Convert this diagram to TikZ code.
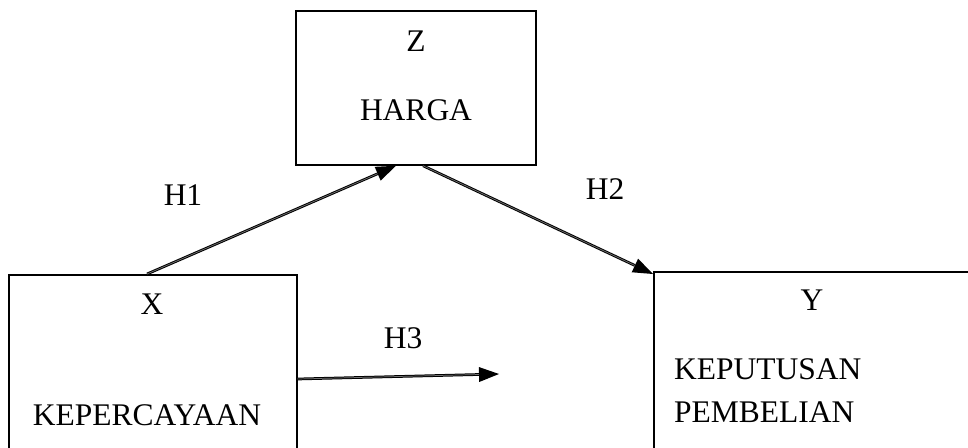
\documentclass[tikz,border=0pt]{standalone}
\usepackage{fontspec}
\setmainfont{Liberation Serif}
\usetikzlibrary{arrows.meta}
\begin{document}
\begin{tikzpicture}[x=1pt,y=-1pt,
  box/.style={draw=black,line width=1.5pt,minimum width=#1,inner sep=0pt},
  lbl/.style={font=\fontsize{31.5}{36}\selectfont,inner sep=0pt,anchor=center},
  link/.style={line width=1pt,draw=black,double=black!55,double distance=0.7pt,
    -{Triangle[length=20pt,width=15pt,fill=black,line width=0pt]}}]
\useasboundingbox (0,0) rectangle (968,447);
\clip (0,0) rectangle (968,447);
% boxes
\node[box=240pt,minimum height=154pt] (Z) at (416,88) {};
\node[box=288pt,minimum height=200pt,anchor=north west] (X) at (8,274) {};
\node[box=340pt,minimum height=200pt,anchor=north west] (Y) at (653,271) {};
% box texts
\node[lbl] (zt) at (416,41) {Z};
\node[lbl] (zh) at (416,110) {HARGA};
\node[lbl] (xt) at (152,304) {X};
\node[lbl] (xk) at (147,415) {KEPERCAYAAN};
\node[lbl] (yt) at (812,300) {Y};
\node[lbl,anchor=west] (yk) at (674,369) {KEPUTUSAN};
\node[lbl,anchor=west] (yp) at (674,412) {PEMBELIAN};
% hypothesis labels
\node[lbl] (h1) at (183,195) {H1};
\node[lbl] (h2) at (605,189) {H2};
\node[lbl] (h3) at (403,338) {H3};
% connectors
\coordinate (h3end) at (499,374);
\draw[link] ([xshift=139pt]X.north west) -- ([xshift=-20pt]Z.south);
\draw[link] ([xshift=7pt]Z.south) -- ([yshift=-3pt]Y.north west);
\draw[link] ([yshift=-105pt]X.north east) -- (h3end);
\end{tikzpicture}
\end{document}
